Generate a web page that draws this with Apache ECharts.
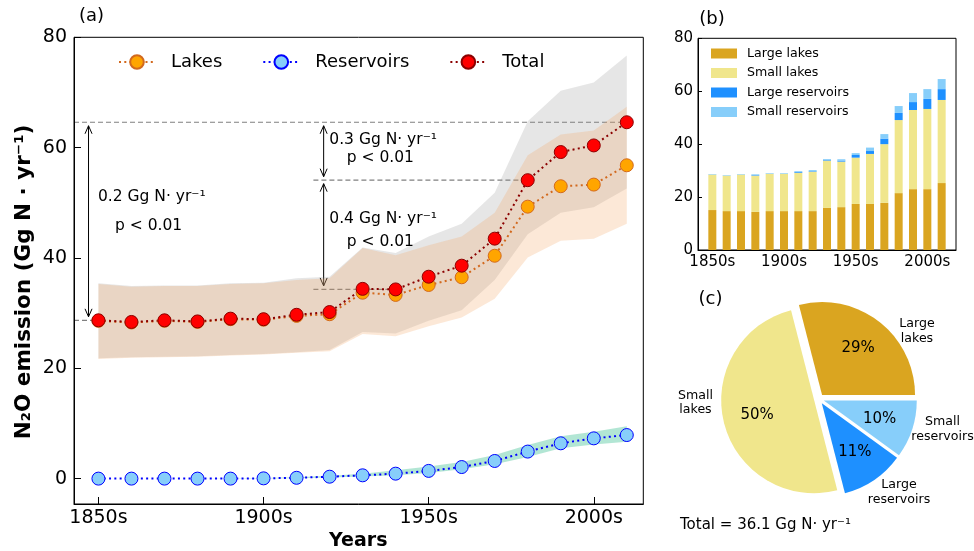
<!DOCTYPE html>
<html><head><meta charset="utf-8">
<script src="https://cdn.jsdelivr.net/npm/echarts@6/dist/echarts.min.js"></script>
<style>html,body{margin:0;padding:0;background:#fff}#c{width:974px;height:551px}</style>
</head><body><div id="c"></div>
<script>
// ---------- data ----------
const decades = [1850,1860,1870,1880,1890,1900,1910,1920,1930,1940,1950,1960,1970,1980,1990,2000,2010];
const tickYears = [1850,1900,1950,2000];
const yTicksA = [0,20,40,60,80];
// panel (a) lines
const lakes      = [28.6,28.3,28.6,28.4,28.9,28.8,29.5,29.8,33.7,33.3,35.1,36.5,40.4,49.3,53.0,53.3,56.8];
const reservoirs = [0.0,0.0,0.0,0.0,0.0,0.05,0.15,0.35,0.6,0.9,1.4,2.1,3.2,4.9,6.4,7.3,7.9];
const total      = [28.7,28.4,28.7,28.5,29.0,28.9,29.7,30.2,34.4,34.3,36.6,38.6,43.5,54.1,59.2,60.4,64.6];
// panel (a) uncertainty bands
const totalLower = [21.8,22.0,22.1,22.2,22.4,22.6,22.9,23.3,26.6,26.3,28.6,30.5,36.0,44.3,48.2,49.2,52.6];
const totalUpper = [35.4,34.9,35.0,35.0,35.4,35.5,36.3,36.6,41.9,40.9,43.9,46.2,51.8,64.8,70.3,71.8,76.7];
const lakesLower = [21.7,21.9,22.0,22.1,22.3,22.5,22.8,23.1,26.2,25.8,27.6,29.2,32.6,40.1,43.1,43.5,46.2];
const lakesUpper = [35.3,34.8,34.9,34.9,35.3,35.4,36.0,36.3,41.8,40.5,42.3,43.9,48.2,58.6,62.4,63.1,67.4];
const resLower   = [0,0,0,0,0,0,0.05,0.2,0.4,0.6,1.0,1.7,2.6,3.9,5.5,6.2,6.7];
const resUpper   = [0,0,0,0,0.05,0.1,0.25,0.5,0.9,1.5,2.2,3.0,4.3,6.1,7.7,8.5,9.5];
// panel (b) stacked bars
const largeLakes = [15.1,14.7,14.7,14.4,14.7,14.7,14.7,14.7,15.9,16.2,17.4,17.4,17.8,21.5,23.0,23.0,25.3];
const smallLakes = [13.4,13.4,13.8,13.7,14.1,14.1,14.5,14.9,17.9,17.2,17.5,18.9,22.2,27.6,29.9,30.3,31.4];
const largeRes   = [0.05,0.05,0.05,0.2,0.05,0.05,0.3,0.2,0.3,0.4,1.0,1.1,2.1,2.7,3.0,3.8,4.1];
const smallRes   = [0.15,0.15,0.15,0.3,0.2,0.2,0.3,0.4,0.3,0.5,0.7,1.3,1.7,2.6,3.4,3.7,3.8];
// panel (c) pie
const pieNames  = ['Large lakes','Small lakes','Large reservoirs','Small reservoirs'];
const pieShares = [29,50,11,10];
const pieTotal  = 36.1;

// ---------- styling ----------
const FONT = 'DejaVu Sans';
const C = {largeLakes:'#DAA520', smallLakes:'#F0E68C', largeRes:'#1E90FF', smallRes:'#87CEFA'};
const pieColors = [C.largeLakes, C.smallLakes, C.largeRes, C.smallRes];
const xMinA = 1842.6, xMaxA = 2015, yMinA = -4.6, yMaxA = 80;
// bar panel categories: one empty slot on each side of the decades
const barCats = [String(decades[0]-10)].concat(decades.map(String), [String(decades[decades.length-1]+10)]);
const showYear = (idx, val) => tickYears.indexOf(+val) >= 0;

const chart = echarts.init(document.getElementById('c'), null, {renderer:'canvas'});

function pairs(arr){ return decades.map((d,i)=>[d, arr[i]]); }
function band(name, lower, upper, color, z){
  const data = decades.map((d,i)=>[d, lower[i], upper[i]]);
  return {
    type:'custom', name, xAxisIndex:0, yAxisIndex:0, silent:true, z,
    data, encode:{x:0, y:[1,2]},
    renderItem(params, api){
      if (params.dataIndex !== 0) return null;
      const top = data.map(p=>api.coord([p[0], p[2]]));
      const bot = data.map(p=>api.coord([p[0], p[1]])).reverse();
      return {type:'polygon', shape:{points: top.concat(bot)}, style:{fill: color}};
    }
  };
}
function lineSeries(name, arr, lineColor, fill, edge){
  return {
    type:'line', name, xAxisIndex:0, yAxisIndex:0, data: pairs(arr),
    symbol:'circle', symbolSize:13, z:5,
    lineStyle:{color:lineColor, width:2, type:[2,3.3]},
    itemStyle:{color:fill, borderColor:edge, borderWidth:1}
  };
}
function barSeries(name, arr, color){
  return {type:'bar', name, xAxisIndex:1, yAxisIndex:1, stack:'b', barWidth:8,
    data: decades.map((d,i)=>[String(d), arr[i]]), itemStyle:{color}};
}
const axisCommon = {
  axisLine:{show:true, onZero:false, lineStyle:{color:'#000', width:1}},
  splitLine:{show:false}
};
const pieData = pieNames.map((n,i)=>({name:n, value:pieShares[i], selected:true, itemStyle:{color:pieColors[i]}}));
const pieLabelData = pieNames.map((n,i)=>({name:n, value:pieShares[i], selected:true, itemStyle:{color:'rgba(0,0,0,0)'}}));

const option = {
  animation:false,
  textStyle:{fontFamily:FONT},
  grid:[
    {left:74, top:37.3, width:569.3, height:466.7, show:true, borderColor:'#000', borderWidth:1},
    {left:698, top:38.3, width:258, height:211.7, show:true, borderColor:'#000', borderWidth:1}
  ],
  xAxis:[
    Object.assign({type:'value', gridIndex:0, min:xMinA, max:xMaxA,
      axisTick:{show:true, inside:true, length:7, customValues:tickYears, lineStyle:{color:'#000'}},
      axisLabel:{customValues:tickYears, formatter:v=>v+'s', fontSize:19, color:'#000', margin:5, fontFamily:FONT}}, axisCommon),
    Object.assign({type:'category', gridIndex:1, data:barCats, boundaryGap:false,
      axisTick:{show:true, inside:true, length:7, interval:showYear, lineStyle:{color:'#000'}},
      axisLabel:{interval:showYear, formatter:v=>v+'s', fontSize:15, color:'#000', margin:5, fontFamily:FONT}}, axisCommon)
  ],
  yAxis:[
    Object.assign({type:'value', gridIndex:0, min:yMinA, max:yMaxA,
      axisTick:{show:true, inside:true, length:7, customValues:yTicksA, lineStyle:{color:'#000'}},
      axisLabel:{customValues:yTicksA, fontSize:19, color:'#000', margin:7, fontFamily:FONT}}, axisCommon),
    Object.assign({type:'value', gridIndex:1, min:0, max:80, interval:20,
      axisTick:{show:true, inside:true, length:4, lineStyle:{color:'#000'}},
      axisLabel:{fontSize:15, color:'#000', margin:5, fontFamily:FONT}}, axisCommon)
  ],
  legend:[
    {data:['Lakes','Reservoirs','Total'], left:118, top:53, padding:0, orient:'horizontal',
     itemWidth:36, itemHeight:17, itemGap:40, selectedMode:false,
     textStyle:{fontSize:18, color:'#000', fontFamily:FONT, padding:[0,0,0,11]}},
    {data:pieNames, left:711, top:47, padding:0, orient:'vertical', icon:'rect',
     itemWidth:26, itemHeight:10, itemGap:6.5, selectedMode:false,
     textStyle:{fontSize:12.6, color:'#000', fontFamily:FONT, padding:[0,0,0,5]}}
  ],
  series:[
    band('totalBand', totalLower, totalUpper, 'rgba(128,128,128,0.2)', 1),
    band('lakesBand', lakesLower, lakesUpper, 'rgba(244,164,96,0.25)', 1),
    band('resBand', resLower, resUpper, 'rgba(102,205,170,0.5)', 1),
    lineSeries('Lakes', lakes, '#D2691E', '#FFA500', '#D2691E'),
    lineSeries('Reservoirs', reservoirs, '#0000FF', '#87CEFA', '#0000FF'),
    lineSeries('Total', total, '#8B0000', '#FF0000', '#8B0000'),
    barSeries('Large lakes', largeLakes, C.largeLakes),
    barSeries('Small lakes', smallLakes, C.smallLakes),
    barSeries('Large reservoirs', largeRes, C.largeRes),
    barSeries('Small reservoirs', smallRes, C.smallRes),
    {type:'pie', name:'pie', center:[819,399], radius:[0,93], startAngle:0, clockwise:false,
     selectedMode:'multiple', selectedOffset:5, silent:true, emphasis:{disabled:true},
     label:{show:false}, labelLine:{show:false}, data:pieData},
    {type:'pie', name:'pieLabels', center:[819,399], radius:[18.6,93], startAngle:0, clockwise:false,
     selectedMode:'multiple', selectedOffset:5, silent:true, emphasis:{disabled:true}, z:4,
     label:{show:true, position:'inside', formatter:p=>Math.round(p.percent)+'%', fontSize:15, color:'#000', fontFamily:FONT},
     labelLine:{show:false}, data:pieLabelData}
  ]
};
chart.setOption(option);

// ---------- annotations ----------
const P = (x,y)=>chart.convertToPixel({xAxisIndex:0, yAxisIndex:0}, [x,y]);
const g = [];
function txt(x, y, text, o){
  g.push({type:'text', x, y, z:10, style:Object.assign({text, fontFamily:FONT, fontSize:15.5, fill:'#000',
    align:'left', verticalAlign:'middle'}, o||{})});
}
function dashed(x1,y1,x2,y2){
  const a=P(x1,y1), b=P(x2,y2);
  g.push({type:'line', z:0, shape:{x1:a[0],y1:a[1],x2:b[0],y2:b[1]},
    style:{stroke:'#808080', lineWidth:1.2, lineDash:[5,3]}});
}
function dblArrow(x, yTop, yBot){
  const a=P(x,yTop), b=P(x,yBot);
  const px=a[0], t=a[1]+3.5, bt=b[1]-3.5;
  const st={stroke:'#000', lineWidth:1, fill:null};
  g.push({type:'line', shape:{x1:px,y1:t,x2:px,y2:bt}, style:st});
  g.push({type:'polyline', shape:{points:[[px-3.5,t+8],[px,t],[px+3.5,t+8]]}, style:st});
  g.push({type:'polyline', shape:{points:[[px-3.5,bt-8],[px,bt],[px+3.5,bt-8]]}, style:st});
}
const n = decades.length-1;
dashed(xMinA, total[n], 2010, total[n]);
dashed(1915.1, total[13], 1980, total[13]);
dashed(1915.1, total[9], 1940, total[9]);
dashed(xMinA, total[0], 1850, total[0]);
dblArrow(1847, total[n], total[0]);
dblArrow(1918.2, total[n], total[13]);
dblArrow(1918.2, total[13], total[9]);

txt(98, 197, '0.2 Gg N· yr⁻¹');
txt(115, 226, 'p < 0.01');
txt(329.3, 140, '0.3 Gg N· yr⁻¹');
txt(346.7, 158, 'p < 0.01');
txt(329.3, 219.3, '0.4 Gg N· yr⁻¹');
txt(346.7, 242.3, 'p < 0.01');

// axis titles & panel labels
g.push({type:'text', x:24, y:282, rotation:Math.PI/2, z:10,
  style:{text:'N₂O emission (Gg N · yr⁻¹)', fontFamily:FONT, fontWeight:'bold', fontSize:21.5, fill:'#000', align:'center', verticalAlign:'middle'}});
txt(358.3, 541.5, 'Years', {fontWeight:'bold', fontSize:19, align:'center'});
txt(91.5, 16, '(a)', {fontSize:18, align:'center'});
txt(712, 19, '(b)', {fontSize:18, align:'center'});
txt(710.5, 299, '(c)', {fontSize:18, align:'center'});

// pie outer labels
const pieLab = [['Large\nlakes',917,331],['Small\nlakes',695.5,402.5],
                ['Large\nreservoirs',899,492],['Small\nreservoirs',942.5,429]];
pieLab.forEach(l=>txt(l[1], l[2], l[0], {fontSize:12.6, align:'center', lineHeight:14.5}));
txt(680, 525, 'Total = ' + pieTotal + ' Gg N· yr⁻¹', {fontSize:15});

chart.setOption({graphic:g});
</script>
</body></html>
